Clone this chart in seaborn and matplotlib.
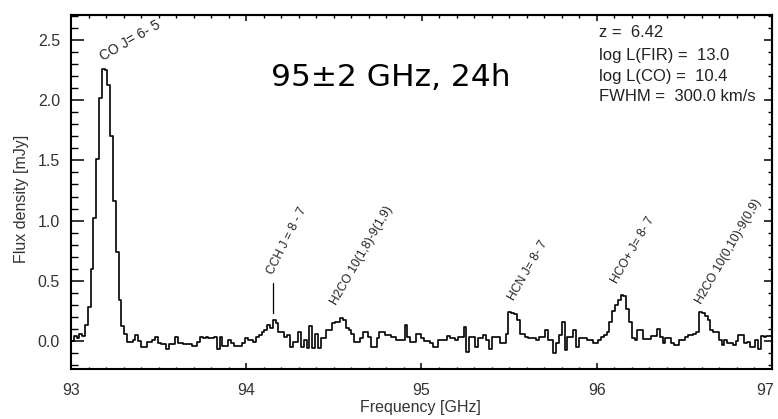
import numpy as np
import pandas as pd
import matplotlib
matplotlib.use("Agg")
import matplotlib.pyplot as plt
import matplotlib.transforms as mtransforms
from matplotlib.ticker import MultipleLocator, NullFormatter
import seaborn as sns

# Spectral grid: 250 channels of 16 MHz from 93 to 97 GHz
f_start = 93.0
chan_width = 0.016
flux = [
    0.00, 0.04, 0.02, 0.06, 0.04, 0.13, 0.28, 0.60, 1.02, 1.51,
    2.02, 2.26, 2.25, 2.13, 1.70, 1.16, 0.74, 0.34, 0.12, 0.06,
    -0.01, -0.01, 0.01, 0.05, 0.00, -0.05, -0.05, -0.01, -0.01, 0.01,
    0.03, -0.02, -0.03, -0.03, -0.07, -0.03, -0.03, 0.03, -0.02, -0.02,
    -0.03, -0.03, -0.03, -0.04, -0.04, -0.01, 0.03, 0.025, 0.03, 0.02,
    0.025, 0.03, -0.07, 0.03, -0.04, -0.04, 0.01, -0.02, -0.04, -0.04,
    -0.04, -0.02, 0.02, 0.005, 0.005, -0.01, 0.03, 0.05, 0.075, 0.09,
    0.13, 0.11, 0.17, 0.145, 0.075, 0.075, 0.03, 0.05, -0.05, -0.01,
    -0.01, 0.075, -0.05, 0.01, -0.06, 0.12, -0.06, 0.06, -0.06, 0.02,
    0.02, 0.09, 0.09, 0.145, 0.16, 0.16, 0.19, 0.17, 0.11, 0.09,
    0.055, -0.01, -0.01, 0.02, 0.07, 0.07, 0.03, -0.055, -0.055, 0.02,
    0.07, 0.07, 0.05, 0.05, 0.03, 0.03, 0.01, 0.01, 0.01, 0.13,
    0.03, -0.01, -0.01, 0.055, 0.055, 0.02, 0.00, 0.00, -0.02, -0.055,
    -0.055, 0.005, 0.005, 0.005, 0.04, 0.02, 0.02, 0.005, 0.03, 0.03,
    0.115, -0.09, 0.03, 0.03, -0.05, 0.02, 0.02, 0.05, 0.005, -0.065,
    0.03, 0.03, 0.03, -0.02, -0.02, 0.055, 0.24, 0.23, 0.22, 0.17,
    0.055, 0.055, 0.03, 0.02, 0.02, 0.02, 0.01, 0.03, 0.03, 0.09,
    0.005, 0.005, -0.105, -0.02, 0.05, 0.16, -0.08, 0.03, 0.03, 0.09,
    -0.05, 0.02, 0.02, 0.02, 0.005, 0.005, -0.02, -0.02, 0.005, 0.03,
    0.05, 0.075, 0.16, 0.25, 0.30, 0.34, 0.38, 0.37, 0.26, 0.16,
    0.02, 0.005, 0.09, 0.09, 0.015, 0.015, 0.015, 0.04, 0.04, 0.095,
    0.03, -0.02, 0.02, 0.02, -0.02, -0.035, -0.035, 0.005, 0.005, 0.03,
    0.05, 0.05, 0.06, 0.075, 0.24, 0.235, 0.21, 0.17, 0.09, 0.075,
    0.075, 0.005, -0.035, 0.005, -0.02, -0.02, -0.035, 0.00, 0.05, 0.05,
    -0.02, -0.01, -0.05, -0.05, 0.005, -0.065, 0.04, 0.03, 0.04, 0.04,
]
freq = f_start + chan_width * (np.arange(len(flux)) + 0.5)

# Frequency axis labels
freq_ticks = [93, 94, 95, 96, 97]
freq_tick_labels = ["93", "94", "95", "96", "97"]

# Line identifications: label, anchor frequency, anchor flux, rotation
line_labels = ["CO J= 6- 5", "CCH J = 8 - 7", "H2CO 10(1,8)-9(1,9)",
               "HCN J= 8- 7", "HCO+ J= 8- 7", "H2CO 10(0,10)-9(0,9)"]
label_freq = [93.183, 94.155, 94.514, 95.528, 96.114, 96.596]
label_flux = [2.33, 0.55, 0.29, 0.333, 0.47, 0.305]
label_rot = [30, 63, 60, 60, 60, 60]
label_size = [10, 8.7, 8.7, 8.7, 8.7, 8.7]

# CCH tick mark
cch_freq = 94.15
cch_span = [0.23, 0.48]

# Model parameters
info_lines = ["z =  6.42", "log L(FIR) =  13.0", "log L(CO) =  10.4",
              "FWHM =  300.0 km/s"]
info_flux = [2.528, 2.339, 2.164, 1.998]

headline = "95\u00b12 GHz, 24h"

sns.set_theme(style="ticks")
plt.rcParams["font.family"] = ["Liberation Sans", "DejaVu Sans"]

df = pd.DataFrame({"freq": freq, "flux": flux})

fig = plt.figure(figsize=(7.78, 4.19), dpi=100)
ax = fig.add_axes([71 / 778, 1 - 369 / 419, 701 / 778, 354 / 419])

sns.lineplot(data=df, x="freq", y="flux", drawstyle="steps-mid",
             color="black", linewidth=1.2, ax=ax, sort=False)

ax.plot([cch_freq, cch_freq], cch_span, color="black", linewidth=0.9)

for txt, fx, fy, rot, fs in zip(line_labels, label_freq, label_flux,
                                label_rot, label_size):
    ax.text(fx, fy, txt, rotation=rot, rotation_mode="anchor",
            ha="left", va="baseline", fontsize=fs, color="#222222")

for txt, fy in zip(info_lines, info_flux):
    ax.text(96.011, fy, txt, ha="left", va="baseline", fontsize=12,
            color="#222222")

ax.text(94.141, 2.117, headline, ha="left", va="baseline",
        fontsize=22.5, color="black", family=["DejaVu Sans"])

ax.set_xlim(93, 97)
ax.set_ylim(-0.235, 2.71)
ax.xaxis.set_major_locator(MultipleLocator(1))
ax.xaxis.set_minor_locator(MultipleLocator(0.1))
ax.yaxis.set_major_locator(MultipleLocator(0.5))
ax.yaxis.set_minor_locator(MultipleLocator(0.1))
ax.xaxis.set_major_formatter(NullFormatter())
ax.yaxis.set_major_formatter(plt.FuncFormatter(lambda v, p: f"{v:.1f}"))

# frequency labels below the axis; the last one nudged inward
xform = ax.get_xaxis_transform()
for k, (fv, lab) in enumerate(zip(freq_ticks, freq_tick_labels)):
    tr = xform
    if k == len(freq_ticks) - 1:
        tr = xform + mtransforms.ScaledTranslation(-7 / 100, 0,
                                                   fig.dpi_scale_trans)
    ax.text(fv, -0.04, lab, transform=tr, ha="center", va="top",
            fontsize=11.5, color="#333333")

ax.tick_params(axis="x", which="major", direction="in", length=4.3,
               width=1.1, color="black")
ax.tick_params(axis="x", which="minor", direction="in", length=1.8,
               width=1.0, color="black")
ax.tick_params(axis="y", which="major", direction="in", length=9.4,
               width=1.1, pad=8, labelsize=11.5, labelcolor="#333333",
               color="black")
ax.tick_params(axis="y", which="minor", direction="in", length=5,
               width=1.0, color="black")

for side in ["left", "right", "top", "bottom"]:
    ax.spines[side].set_visible(True)
    ax.spines[side].set_linewidth(1.5)
    ax.spines[side].set_color("black")

top = ax.secondary_xaxis("top")
top.xaxis.set_major_locator(MultipleLocator(1))
top.xaxis.set_minor_locator(MultipleLocator(0.1))
top.tick_params(which="major", direction="in", length=4.3, width=1.1,
                labeltop=False, color="black")
top.tick_params(which="minor", direction="in", length=2, width=1.0,
                color="black")
top.spines["top"].set_linewidth(1.5)

right = ax.secondary_yaxis("right")
right.yaxis.set_major_locator(MultipleLocator(0.5))
right.yaxis.set_minor_locator(MultipleLocator(0.1))
right.tick_params(which="major", direction="in", length=5.5, width=1.1,
                  labelright=False, color="black")
right.tick_params(which="minor", direction="in", length=3, width=1.0,
                  color="black")
right.spines["right"].set_linewidth(1.5)

ax.set_xlabel("Frequency [GHz]", fontsize=11.5, color="#333333")
ax.set_ylabel("Flux density [mJy]", fontsize=11.5, color="#333333")
ax.xaxis.set_label_coords(0.498, -0.088)
ax.yaxis.set_label_coords(-0.060, 0.48)

fig.savefig("out.png", dpi=100, facecolor="white")
